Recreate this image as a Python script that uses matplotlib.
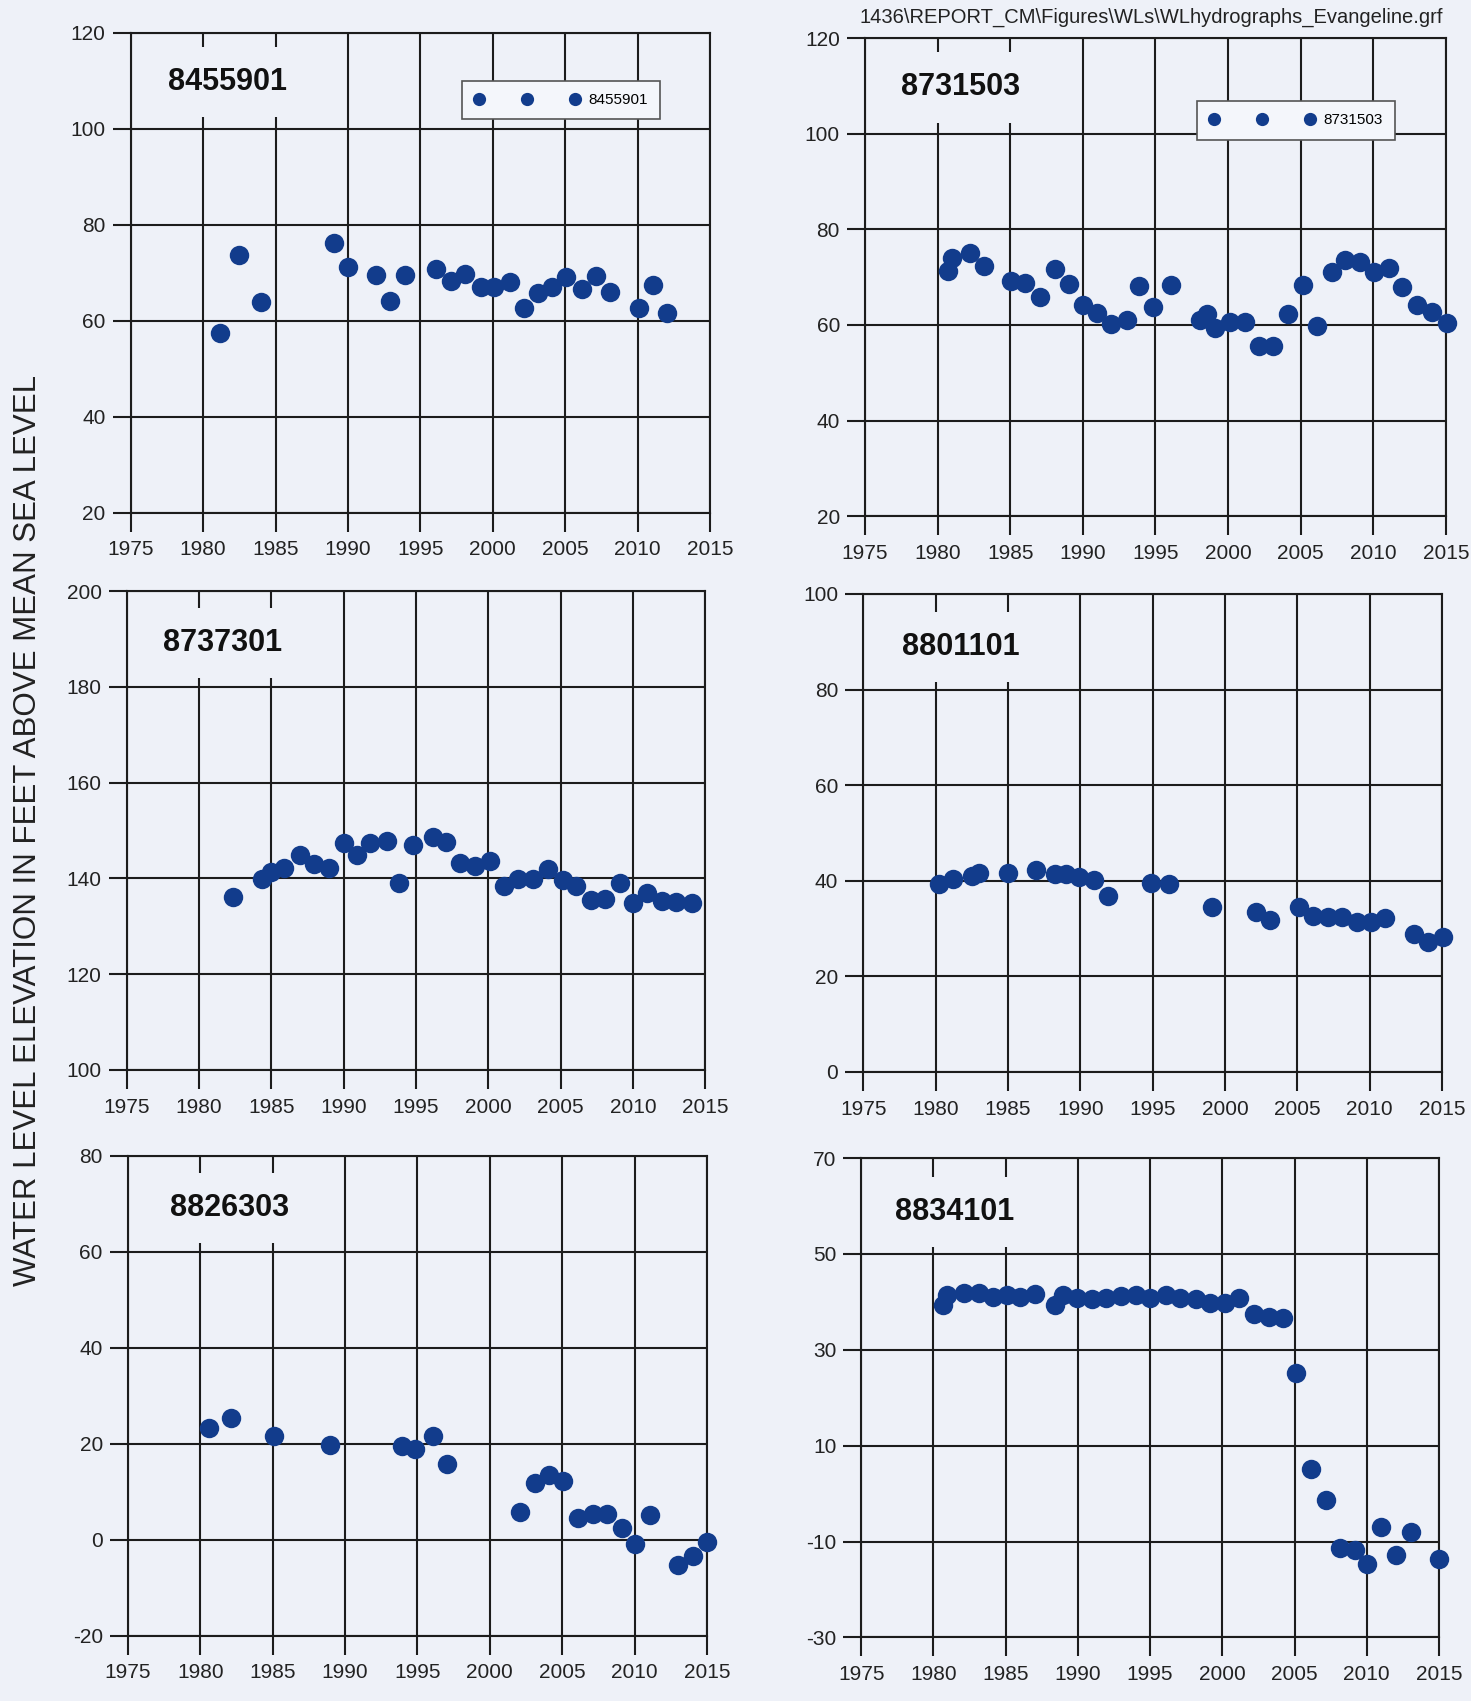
import matplotlib
matplotlib.use("Agg")
import matplotlib.pyplot as plt

plt.rcParams['font.family'] = ['Liberation Sans', 'DejaVu Sans']
plt.rcParams['axes.unicode_minus'] = False

# --- water level data (year, ft above MSL) ---
yr_8455901 = [1981.15, 1982.5, 1984.0, 1989.07, 1989.97, 1991.94, 1992.87, 1993.97,
              1996.1, 1997.1, 1998.1, 1999.16, 2000.1, 2001.16, 2002.15, 2003.13,
              2004.1, 2005.08, 2006.15, 2007.14, 2008.1, 2010.07, 2011.05, 2012.04]
wl_8455901 = [57.5, 73.6, 63.9, 76.1, 71.1, 69.6, 64.1, 69.6,
              70.7, 68.3, 69.8, 66.9, 66.9, 68.0, 62.6, 65.7,
              67.0, 69.1, 66.5, 69.2, 65.9, 62.6, 67.5, 61.6]

yr_8731503 = [1980.74, 1980.98, 1982.2, 1983.19, 1985.07, 1986.0, 1987.08, 1988.05,
              1989.02, 1990.02, 1990.96, 1991.97, 1993.06, 1993.88, 1994.85, 1996.09,
              1998.06, 1998.56, 1999.1, 2000.1, 2001.16, 2002.1, 2003.1, 2004.13,
              2005.16, 2006.1, 2007.14, 2008.08, 2009.1, 2010.05, 2011.05, 2012.0,
              2013.03, 2014.03, 2015.06]
wl_8731503 = [71.3, 74.1, 75.0, 72.3, 69.3, 68.7, 65.8, 71.7,
              68.5, 64.1, 62.6, 60.1, 61.1, 68.2, 63.7, 68.4,
              61.1, 62.2, 59.3, 60.7, 60.7, 55.6, 55.5, 62.2,
              68.3, 59.8, 71.0, 73.6, 73.1, 71.0, 71.9, 67.9,
              64.1, 62.7, 60.5]

yr_8737301 = [1982.33, 1984.39, 1985.0, 1985.9, 1987.0, 1987.98, 1989.0, 1990.0,
              1990.9, 1991.84, 1993.0, 1993.84, 1994.83, 1996.16, 1997.09, 1998.05,
              1999.06, 2000.1, 2001.09, 2002.08, 2003.12, 2004.1, 2005.13, 2006.09,
              2007.1, 2008.06, 2009.13, 2010.03, 2011.0, 2012.0, 2013.0, 2014.07]
wl_8737301 = [136.2, 139.9, 141.4, 142.2, 144.8, 143.1, 142.2, 147.4,
              144.8, 147.4, 147.8, 139.1, 147.0, 148.7, 147.6, 143.3,
              142.5, 143.7, 138.4, 139.9, 139.9, 141.9, 139.6, 138.4,
              135.4, 135.8, 139.1, 134.9, 136.9, 135.3, 135.1, 134.9]

yr_8801101 = [1980.24, 1981.18, 1982.51, 1982.99, 1984.97, 1986.95, 1988.28, 1989.02,
              1989.94, 1990.98, 1991.92, 1994.88, 1996.12, 1999.14, 2002.13, 2003.14,
              2005.09, 2006.12, 2007.16, 2008.1, 2009.14, 2010.12, 2011.09, 2013.08,
              2014.05, 2015.09]
wl_8801101 = [39.2, 40.4, 41.0, 41.6, 41.6, 42.2, 41.5, 41.3,
              40.7, 40.2, 36.8, 39.6, 39.2, 34.4, 33.5, 31.8,
              34.4, 32.7, 32.4, 32.4, 31.4, 31.4, 32.1, 28.8,
              27.1, 28.2]

yr_8826303 = [1980.64, 1982.1, 1985.12, 1988.98, 1993.94, 1994.85, 1996.09, 1997.05,
              2002.12, 2003.1, 2004.09, 2005.08, 2006.07, 2007.13, 2008.09, 2009.16,
              2010.0, 2011.05, 2013.03, 2014.01, 2015.03]
wl_8826303 = [23.3, 25.4, 21.7, 19.8, 19.6, 18.8, 21.7, 15.7,
              5.7, 11.9, 13.5, 12.2, 4.6, 5.4, 5.4, 2.4,
              -1.0, 5.2, -5.2, -3.4, -0.4]

yr_8834101 = [1980.69, 1980.93, 1982.11, 1983.15, 1984.1, 1985.07, 1985.96, 1987.0,
              1988.39, 1988.96, 1989.96, 1990.97, 1991.92, 1992.99, 1994.02, 1994.97,
              1996.1, 1997.07, 1998.17, 1999.15, 2000.19, 2001.19, 2002.17, 2003.21,
              2004.19, 2005.13, 2006.11, 2007.15, 2008.16, 2009.19, 2010.02, 2011.0,
              2012.0, 2013.04, 2015.0]
wl_8834101 = [39.4, 41.5, 41.8, 41.8, 41.1, 41.5, 41.1, 41.6,
              39.4, 41.5, 40.9, 40.5, 40.9, 41.3, 41.5, 40.9,
              41.5, 40.9, 40.5, 39.8, 39.8, 40.7, 37.5, 36.8,
              36.6, 25.2, 5.2, -1.3, -11.3, -11.7, -14.6, -7.0,
              -12.8, -8.1, -13.6]

wells = ['8455901', '8731503', '8737301', '8801101', '8826303', '8834101']
years = [yr_8455901, yr_8731503, yr_8737301, yr_8801101, yr_8826303, yr_8834101]
levels = [wl_8455901, wl_8731503, wl_8737301, wl_8801101, wl_8826303, wl_8834101]
y_ranges = [(20, 120), (20, 120), (100, 200), (0, 100), (-20, 80), (-30, 70)]
x_ticks = list(range(1975, 2016, 5))

# axes boxes (figure fraction) and well label positions (axes fraction)
boxes = [(0.0888, 0.6987, 0.394, 0.2821), (0.588, 0.6966, 0.395, 0.2809),
         (0.086, 0.371, 0.3935, 0.2814), (0.5869, 0.3699, 0.3933, 0.2809),
         (0.0869, 0.0385, 0.3937, 0.2819), (0.5855, 0.0374, 0.3927, 0.2818)]
label_pos = [(0.0645, 0.897), (0.0627, 0.897), (0.0636, 0.892),
             (0.0666, 0.8895), (0.073, 0.8916), (0.0585, 0.888)]
legend_pos = {0: (0.5725, 0.900), 1: (0.5714, 0.8686)}

bg = '#eef1f8'
ink = '#1c1c1c'
dot = '#123c8c'

fig = plt.figure(figsize=(14.71, 17.01), dpi=100, facecolor=bg)

for i in range(6):
    ax = fig.add_axes(boxes[i], facecolor=bg)
    ax.set_axisbelow(True)
    ax.plot(years[i], levels[i], 'o', ls='none', color=dot, markersize=14,
            markeredgewidth=0, label=wells[i], zorder=3, clip_on=False)
    ax.set_xlim(1975, 2015)
    ax.set_ylim(*y_ranges[i])
    ax.set_xticks(x_ticks)
    ax.set_yticks(range(y_ranges[i][0], y_ranges[i][1] + 1, 20))
    ax.grid(True, color=ink, lw=1.5)
    for s in ax.spines.values():
        s.set_color(ink)
        s.set_linewidth(1.5)
    ax.tick_params(axis='x', direction='out', length=14, width=1.5, color=ink,
                   labelsize=15, labelcolor='#222222', pad=6)
    ax.tick_params(axis='y', direction='out', length=13, width=1.5, color=ink,
                   labelsize=15, labelcolor='#222222', pad=5)

    lx, ly = label_pos[i]
    ax.text(lx, ly, wells[i], transform=ax.transAxes, ha='left', va='center',
            fontsize=22, fontweight='bold', color='#111111', zorder=5,
            bbox=dict(boxstyle='square,pad=0.66', facecolor=bg, edgecolor='none'))

    if i in legend_pos:
        leg = ax.legend(loc='upper left', bbox_to_anchor=legend_pos[i], numpoints=3,
                        markerscale=0.68, handlelength=6.9, handletextpad=0.55,
                        borderpad=0.8, borderaxespad=0, fontsize=11,
                        frameon=True, fancybox=False, facecolor='#f4f6fb',
                        edgecolor='#555555', framealpha=1)
        leg.get_frame().set_linewidth(1.2)
        leg.set_zorder(6)

fig.text(0.019, 0.512, 'WATER LEVEL ELEVATION IN FEET ABOVE MEAN SEA LEVEL',
         rotation=90, ha='center', va='center', fontsize=22.5, color='#222222')
fig.text(0.981, 0.990, '1436\\REPORT_CM\\Figures\\WLs\\WLhydrographs_Evangeline.grf',
         ha='right', va='center', fontsize=14.5, color='#222222')

fig.savefig('out.png', dpi=100, facecolor=bg)
